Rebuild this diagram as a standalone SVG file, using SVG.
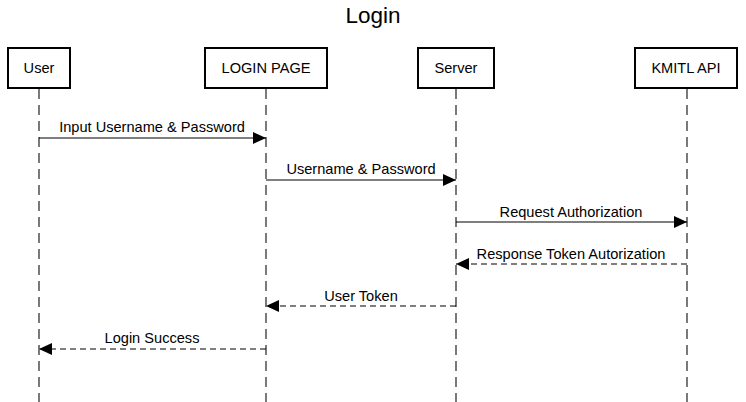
<svg xmlns="http://www.w3.org/2000/svg" width="746" height="402" viewBox="0 0 746 402">
<style>
text{font-family:"Liberation Sans",Arial,sans-serif;fill:#000}
.actor rect{fill:#fff;stroke:#000;stroke-width:2}
.actor text{font-size:14.6px;text-anchor:middle}
.life{stroke:#333;stroke-width:1.3;stroke-dasharray:10,6;fill:none}
.msg{stroke:#000;stroke-width:1.1;fill:none}
.dash{stroke-dasharray:6,4}
.lbl{font-size:14.6px;text-anchor:middle}
</style>
<defs>
<marker id="ah" markerWidth="13" markerHeight="12" refX="13" refY="6" orient="auto" markerUnits="userSpaceOnUse">
<path d="M0,0 L13,6 L0,12 Z" fill="#000"/>
</marker>
</defs>
<rect width="746" height="402" fill="#fff"/>
<text x="373" y="23" font-size="22.5" text-anchor="middle">Login</text>
<g id="lifelines">
<line class="life" x1="39" y1="89" x2="39" y2="402"/>
<line class="life" x1="266" y1="89" x2="266" y2="402"/>
<line class="life" x1="456" y1="89" x2="456" y2="402"/>
<line class="life" x1="687" y1="89" x2="687" y2="402"/>
</g>
<g id="user" class="actor"><rect x="8" y="48" width="62" height="40"/><text x="39" y="73">User</text></g>
<g id="loginpage" class="actor"><rect x="205" y="48" width="122" height="40"/><text x="266" y="73">LOGIN PAGE</text></g>
<g id="server" class="actor"><rect x="418" y="48" width="76" height="40"/><text x="456" y="73">Server</text></g>
<g id="kmitl" class="actor"><rect x="635" y="48" width="102" height="40"/><text x="686" y="73">KMITL API</text></g>
<g id="connectors">
<line class="msg" x1="39" y1="138" x2="266" y2="138" marker-end="url(#ah)"/>
<text class="lbl" x="152" y="132">Input Username &amp; Password</text>
<line class="msg" x1="266" y1="180" x2="456" y2="180" marker-end="url(#ah)"/>
<text class="lbl" x="361" y="174">Username &amp; Password</text>
<line class="msg" x1="456" y1="222" x2="687" y2="222" marker-end="url(#ah)"/>
<text class="lbl" x="571" y="217">Request Authorization</text>
<line class="msg dash" x1="687" y1="264" x2="456" y2="264" marker-end="url(#ah)"/>
<text class="lbl" x="571" y="259">Response Token Autorization</text>
<line class="msg dash" x1="456" y1="306" x2="266" y2="306" marker-end="url(#ah)"/>
<text class="lbl" x="361" y="301">User Token</text>
<line class="msg dash" x1="266" y1="349" x2="39" y2="349" marker-end="url(#ah)"/>
<text class="lbl" x="152" y="343">Login Success</text>
</g>
</svg>
